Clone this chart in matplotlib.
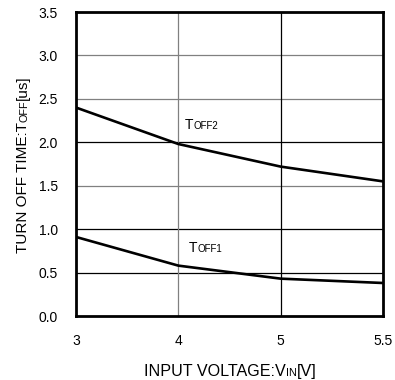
import matplotlib.pyplot as plt
import numpy as np
from matplotlib.transforms import IdentityTransform

plt.rcParams['font.family'] = ['Liberation Sans', 'DejaVu Sans']

vin_labels = ['3', '4', '5', '5.5']
toff1 = [0.91, 0.58, 0.43, 0.38]
toff2 = [2.40, 1.98, 1.72, 1.55]
yticks = [0.0, 0.5, 1.0, 1.5, 2.0, 2.5, 3.0, 3.5]

fig = plt.figure(figsize=(3.95, 3.80), dpi=100)
ax = fig.add_axes([76 / 395, 64 / 380, 307 / 395, 304 / 380])

pos = np.arange(len(vin_labels))

# grid lines (mixed grey / black like the datasheet)
hcol = {0.5: 'black', 1.0: 'black', 1.5: 'grey', 2.0: 'black', 2.5: 'grey', 3.0: 'grey'}
for v, c in hcol.items():
    ax.axhline(v, color=c, lw=0.9, zorder=1)
ax.axvline(1, color='grey', lw=0.9, zorder=1)
ax.axvline(2, color='black', lw=0.9, zorder=1)

ax.plot(pos, toff2, color='black', lw=1.9, zorder=3)
ax.plot(pos, toff1, color='black', lw=1.9, zorder=3)

ax.set_xlim(0, 3)
ax.set_ylim(0, 3.5)
ax.set_xticks(pos)
ax.set_xticklabels(vin_labels)
ax.set_yticks(yticks)
ax.set_yticklabels([f'{v:.1f}' for v in yticks])
ax.tick_params(length=0, labelsize=10, pad=13)
for s in ax.spines.values():
    s.set_linewidth(2)
    s.set_zorder(4)

renderer = fig.canvas.get_renderer()


def rich(x, y, pieces, rotation=0):
    for s, size in pieces:
        t = fig.text(x, y, s, fontsize=size, transform=IdentityTransform(),
                     rotation=rotation, rotation_mode='anchor',
                     ha='left', va='baseline')
        bb = t.get_window_extent(renderer)
        if rotation:
            y += bb.height
        else:
            x += bb.width


H = 380
rich(144, H - 376, [('INPUT VOLTAGE:V', 11.6), ('IN', 7.8), ('[V]', 11.6)])
rich(27, H - 253, [('TURN OFF TIME:T', 11), ('OFF', 7.8), ('[us]', 11)], rotation=90)
rich(185, H - 129, [('T', 10), ('OFF2', 7)])
rich(189, H - 252, [('T', 10), ('OFF1', 7)])

fig.savefig('out.png', dpi=100)
